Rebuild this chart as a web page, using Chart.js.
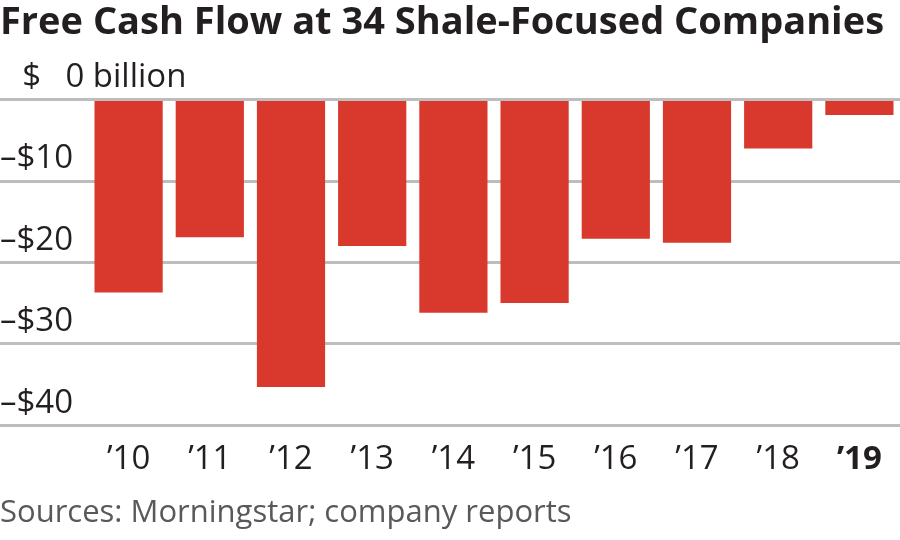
<!DOCTYPE html>
<html>
<head>
<meta charset="utf-8">
<script src="https://cdn.jsdelivr.net/npm/chart.js@4.4.1/dist/chart.umd.min.js"></script>
<style>
  html, body { margin: 0; padding: 0; background: #fff; }
  #wrap { width: 900px; height: 540px; position: relative; }
</style>
</head>
<body>
<div id="wrap"><canvas id="fcfChart"></canvas></div>
<script>
// data
const years = ['\u201910', '\u201911', '\u201912', '\u201913', '\u201914', '\u201915', '\u201916', '\u201917', '\u201918', '\u201919'];
const freeCashFlow = [-23.7, -16.9, -35.3, -18.0, -26.2, -25.0, -17.1, -17.6, -6.0, -1.9];
const yTickValues = [0, -10, -20, -30, -40];
const yTickLabels = ['\u2007\u200a$\u2007\u20090 billion', '\u2013$10', '\u2013$20', '\u2013$30', '\u2013$40'];

const FONT = "'Open Sans', 'Noto Sans', sans-serif";
const INK = '#231f20';
const GRID = '#bdbdbd';
const RED = '#d9392c';
const AXIS_W = 88;

const ctx = document.getElementById('fcfChart').getContext('2d');
new Chart(ctx, {
    type: 'bar',
    data: {
        labels: years,
        datasets: [{
            data: freeCashFlow,
            backgroundColor: RED,
            borderWidth: 0,
            categoryPercentage: 1,
            barPercentage: 0.84
        }]
    },
    options: {
        responsive: true,
        maintainAspectRatio: false,
        animation: false,
        layout: { padding: { left: 0, right: 0, top: 0, bottom: 8 } },
        plugins: {
            legend: { display: false },
            tooltip: { enabled: false },
            title: {
                display: true,
                text: 'Free Cash Flow at 34 Shale-Focused Companies',
                align: 'start',
                color: INK,
                font: { family: FONT, size: 38, weight: 'bold' },
                padding: { top: 0, bottom: 54 }
            },
            subtitle: {
                display: true,
                position: 'bottom',
                text: 'Sources: Morningstar; company reports',
                align: 'start',
                color: '#58595b',
                font: { family: FONT, size: 31 },
                padding: { top: 0, bottom: 0 }
            }
        },
        scales: {
            x: {
                grid: { display: false, drawTicks: false },
                border: { display: false },
                ticks: {
                    color: INK,
                    padding: 15,
                    maxRotation: 0,
                    font: (c) => ({
                        family: FONT,
                        size: 33,
                        weight: c.index === years.length - 1 ? 'bold' : 'normal'
                    })
                }
            },
            y: {
                min: -40,
                max: 0,
                afterFit: (scale) => { scale.width = AXIS_W; },
                afterBuildTicks: (scale) => {
                    scale.ticks = yTickValues.map(v => ({ value: v }));
                },
                grid: {
                    color: GRID,
                    lineWidth: 3,
                    tickLength: AXIS_W,
                    drawTicks: true
                },
                border: { display: false },
                ticks: {
                    color: INK,
                    mirror: true,
                    crossAlign: 'near',
                    padding: -AXIS_W,
                    labelOffset: -22,
                    font: { family: FONT, size: 33 },
                    callback: (v) => yTickLabels[yTickValues.indexOf(v)]
                }
            }
        }
    }
});
</script>
</body>
</html>
